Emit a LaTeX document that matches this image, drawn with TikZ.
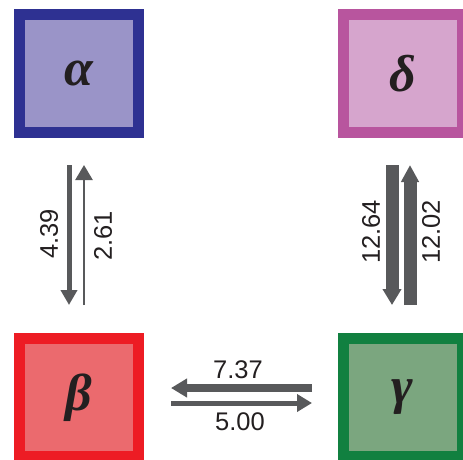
\documentclass[tikz,border=0pt]{standalone}
\usepackage{fontspec}
\setmainfont{Liberation Sans}
\newfontfamily\greekfont{Liberation Serif}
\usetikzlibrary{arrows.meta}
\definecolor{aB}{HTML}{2E3192}
\definecolor{aF}{HTML}{9A94C8}
\definecolor{dB}{HTML}{B8559E}
\definecolor{dF}{HTML}{D6A5CD}
\definecolor{bB}{HTML}{ED1C24}
\definecolor{bF}{HTML}{EB6A6E}
\definecolor{gB}{HTML}{118040}
\definecolor{gF}{HTML}{7BA67F}
\definecolor{arr}{HTML}{58595B}
\definecolor{txt}{HTML}{231F20}
\tikzset{
  statebox/.style={draw, line width=11pt, minimum width=119pt, minimum height=118pt, inner sep=0pt,
    font=\greekfont\bfseries\itshape\fontsize{52}{54}\selectfont, text=txt},
  num/.style={font=\fontsize{25.5}{28}\selectfont, text=txt, inner sep=0pt},
  flow/.style={draw=arr, line cap=butt},
}
\begin{document}
\begin{tikzpicture}[x=1pt,y=-1pt]
\useasboundingbox (0,0) rectangle (463,459);
\node[statebox, draw=aB, fill=aF] (alpha) at (79,73.5) {α};
\node[statebox, draw=dB, fill=dF] (delta) at (402.5,73.5) {δ};
\node[statebox, draw=bB, fill=bF] (beta) at (79,397.5) {β};
\node[statebox, draw=gB, fill=gF] (gamma) at (402.5,397.5) {γ};
% left pair
\coordinate (l1s) at (69,165); \coordinate (l1e) at (69,305);
\coordinate (l2s) at (84,305); \coordinate (l2e) at (84,165);
\draw[flow, line width=5pt, -{Triangle[length=15pt,width=16pt]}] (l1s) -- (l1e);
\draw[flow, line width=2.5pt, -{Triangle[length=15pt,width=17pt]}] (l2s) -- (l2e);
\node[num, rotate=90] (n439) at (49,234) {4.39};
\node[num, rotate=90] (n261) at (103,236) {2.61};
% right pair
\coordinate (r1s) at (392,165); \coordinate (r1e) at (392,305);
\coordinate (r2s) at (410,305); \coordinate (r2e) at (410,165);
\draw[flow, line width=13pt, -{Triangle[length=16pt,width=18pt]}] (r1s) -- (r1e);
\draw[flow, line width=13pt, -{Triangle[length=17pt,width=17pt]}] (r2s) -- (r2e);
\node[num, rotate=90] (n1264) at (371,232) {12.64};
\node[num, rotate=90] (n1202) at (431,232) {12.02};
% bottom pair
\coordinate (b1s) at (312,388); \coordinate (b1e) at (171,388);
\coordinate (b2s) at (171,403); \coordinate (b2e) at (312,403);
\draw[flow, line width=8pt, -{Triangle[length=16pt,width=18pt]}] (b1s) -- (b1e);
\draw[flow, line width=5pt, -{Triangle[length=15pt,width=17pt]}] (b2s) -- (b2e);
\node[num] (n737) at (238,370) {7.37};
\node[num] (n500) at (240,422) {5.00};
\end{tikzpicture}
\end{document}
